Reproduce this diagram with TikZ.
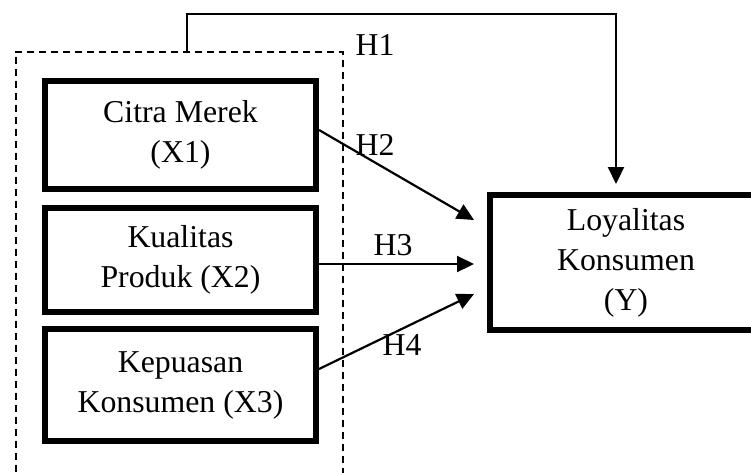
\documentclass[tikz,border=0pt]{standalone}
\usepackage{fontspec}
\setmainfont{Liberation Serif}
\usetikzlibrary{arrows.meta,calc}
\begin{document}
\begin{tikzpicture}[x=1pt,y=-1pt,
  txt/.style={font=\fontsize{31.8}{40}\selectfont},
  varbox/.style={draw, line width=6pt, inner sep=0pt, align=center, txt},
  grpbox/.style={draw, dashed, dash pattern=on 7pt off 5pt, line width=1.9pt, inner sep=0pt},
  arr/.style={line width=2.2pt, -{Triangle[length=17pt,width=16pt]}},
  hlab/.style={txt, anchor=base, inner sep=0pt}]
\useasboundingbox (0,0) rectangle (751,472);
\clip (0,0) rectangle (751,472);
\node[grpbox, minimum width=327.4pt, minimum height=468pt] (grp) at (179.3,286) {};
\node[varbox, minimum width=271pt, minimum height=108pt] (citra) at (180.5,135) {Citra Merek\\(X1)};
\node[varbox, minimum width=271pt, minimum height=104pt] (kual) at (180.5,260) {Kualitas\\Produk (X2)};
\node[varbox, minimum width=271pt, minimum height=112pt] (kep) at (180.5,385) {Kepuasan\\Konsumen (X3)};
\node[varbox, minimum width=272pt, minimum height=135pt] (loy) at (626,262.5) {Loyalitas\\Konsumen\\(Y)};
\coordinate (h1s) at (187,52);
\coordinate (h1c) at (616,14);
\coordinate (h1e) at (616,184);
\coordinate (h2s) at (319,130);
\coordinate (h2e) at (474,220);
\coordinate (h3s) at (319,264);
\coordinate (h3e) at (474,264);
\coordinate (h4s) at (319,369);
\coordinate (h4e) at (474,294);
\draw[arr] (h1s) |- (h1c) -- (h1e);
\draw[arr] (h2s) -- (h2e);
\draw[arr] (h3s) -- (h3e);
\draw[arr] (h4s) -- (h4e);
\node[hlab] (l1) at (375,55) {H1};
\node[hlab] (l2) at (375,155) {H2};
\node[hlab] (l3) at (393,255) {H3};
\node[hlab] (l4) at (402,355) {H4};
\end{tikzpicture}
\end{document}
